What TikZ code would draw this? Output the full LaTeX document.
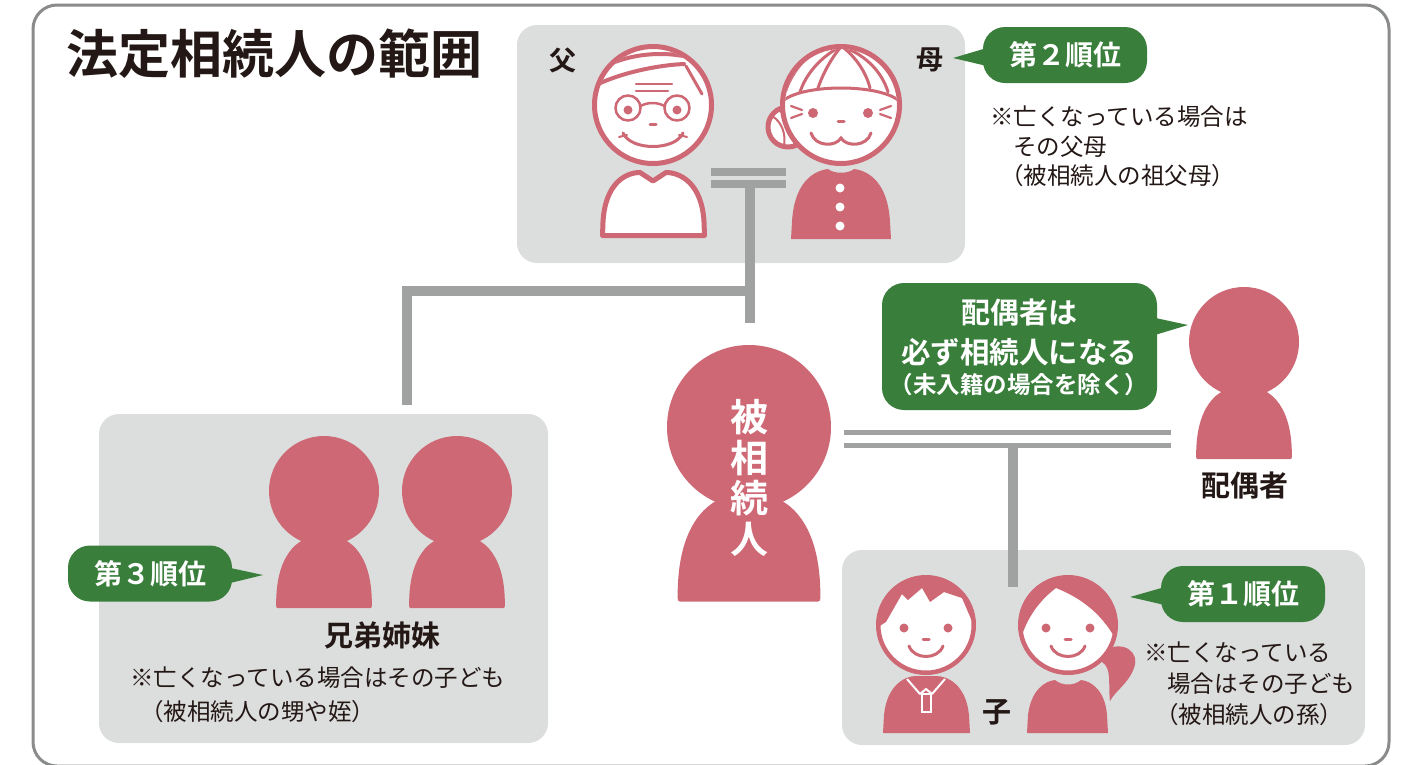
\documentclass[tikz,border=0pt]{standalone}
\usepackage{fontspec}
\setmainfont{Noto Sans CJK JP}[BoldFont={Noto Sans CJK JP Bold}]
\usetikzlibrary{positioning,calc}

\definecolor{figpink}{HTML}{CD6874}
\definecolor{boxgray}{HTML}{DCDDDD}
\definecolor{linegray}{HTML}{A0A1A1}
\definecolor{framegray}{HTML}{8A8B8B}
\definecolor{rankgreen}{HTML}{3A7E3C}
\definecolor{inkblack}{HTML}{231815}

\tikzset{
    groupbox/.style = {
        fill=boxgray,
        rounded corners=20pt
    },
    bondline/.style = {
        draw=linegray,
        line width=10pt
    },
    rankbubble/.style = {
        fill=rankgreen,
        rounded corners=22pt,
        text=white,
        font=\bfseries\fontsize{28}{28}\selectfont,
        inner sep=0pt,
        minimum width=164pt,
        minimum height=56pt
    },
    whotext/.style = {
        text=inkblack,
        font=\bfseries\fontsize{29}{29}\selectfont,
        inner sep=0pt
    },
    notetext/.style = {
        text=inkblack,
        font=\fontsize{23.5}{23.5}\selectfont,
        inner sep=0pt,
        anchor=west
    },
    outlined/.style = {
        draw=figpink,
        fill=white,
        line width=5pt,
        line join=round
    },
    facestroke/.style = {
        draw=figpink,
        line width=3pt,
        line cap=round
    },
    pics/silhouette/.style = {
        code = {
            \fill[figpink] (0,0) circle (1);
            \fill[figpink] (-0.87,2.05) .. controls (-0.87,1.25) and (-0.55,0.8) .. (0,0.8)
                .. controls (0.55,0.8) and (0.87,1.25) .. (0.87,2.05)
                .. controls (0.87,2.13) .. (0.8,2.13) -- (-0.8,2.13)
                .. controls (-0.87,2.13) .. (-0.87,2.05) -- cycle;
        }
    }
}

\begin{document}
\begin{tikzpicture}[x=1pt, y=-1pt]
    \useasboundingbox (0,0) rectangle (1424,764);

    % Frame and title
    \draw[framegray, line width=3pt, rounded corners=24pt] (33,5) rectangle (1389,766);
    \node[anchor=west, text=inkblack, inner sep=0pt, font=\bfseries\fontsize{52}{52}\selectfont] (title) at (66,54) {法定相続人の範囲};

    % Grey groups
    \fill[groupbox] (517,25) rectangle (965,263);
    \fill[groupbox] (99,414) rectangle (548,743);
    \fill[groupbox] (842,550) rectangle (1365,745);

    % Family lines
    \coordinate (par-l) at (711,0);
    \coordinate (par-r) at (786,0);
    \coordinate (par-stem) at (750,184);
    \coordinate (par-end) at (750,323);
    \coordinate (sib-top) at (407,291);
    \coordinate (sib-end) at (407,405);
    \coordinate (spo-l) at (844,0);
    \coordinate (spo-r) at (1171,0);
    \coordinate (kid-top) at (1013,446);
    \coordinate (kid-end) at (1013,587);

    \draw[linegray, line width=7.7pt] (par-l |- 0,172) -- (par-r |- 0,172);
    \draw[linegray, line width=7.7pt] (par-l |- 0,184) -- (par-r |- 0,184);
    \draw[bondline] (par-stem) -- (par-end);
    \draw[bondline] (sib-end) -- (sib-top) -- (par-stem |- sib-top);
    \draw[linegray, line width=5pt] (spo-l |- 0,432.5) -- (spo-r |- 0,432.5);
    \draw[linegray, line width=5pt] (spo-l |- 0,445.5) -- (spo-r |- 0,445.5);
    \draw[bondline] (kid-top) -- (kid-end);

    % Father
    \path[outlined] (602.5,235.5) -- (603,222) .. controls (605,184) and (625,172.5) .. (640,172.5)
        -- (653,181) -- (666,172.5) .. controls (681,172.5) and (702,184) .. (704,222) -- (704.5,235.5) -- cycle;
    \path[outlined] (653,105) circle (58.5);
    \begin{scope}
        \clip (653,105) circle (56);
        \draw[facestroke, line width=4pt] (598,70) .. controls (625,54) and (662,50) .. (692,58);
        \draw[facestroke, line width=4pt] (594,86) .. controls (622,72) and (660,65) .. (684,64);
        \draw[facestroke] (686,66) -- (702,94);
        \draw[facestroke] (696,60) -- (712,84);
    \end{scope}
    \draw[facestroke, line width=2.2pt] (636,84) -- (672,84) (636,91) -- (668,91);
    \draw[facestroke, line width=2.5pt] (628,108) circle (12.5) (677,108) circle (12.5);
    \draw[facestroke, line width=2.5pt] (640.5,106) .. controls (648,102) and (657,102) .. (664.5,106);
    \fill[figpink] (628,110) circle (4.5) (677,110) circle (4.5);
    \draw[facestroke] (650,124) -- (656,124);
    \draw[facestroke] (623,133) .. controls (631,151) and (675,151) .. (683,133);
    \draw[facestroke, line width=2pt] (619,137) -- (627,135) (679,135) -- (687,137);

    % Mother
    \path[outlined] (788,127) circle (20);
    \begin{scope}
        \clip (788,127) circle (18);
        \draw[facestroke, line width=2pt] (772,116) .. controls (782,122) and (786,134) .. (784,146);
        \draw[facestroke, line width=2pt] (778,110) .. controls (792,118) and (796,132) .. (794,146);
    \end{scope}
    \path[outlined] (841,105) circle (58.5);
    \begin{scope}
        \clip (841,105) circle (56);
        \draw[facestroke] (784,100) .. controls (805,84) and (877,84) .. (898,100);
        \draw[facestroke] (838,48) .. controls (820,58) and (806,74) .. (800,92);
        \draw[facestroke] (840,48) .. controls (830,60) and (822,76) .. (818,88);
        \draw[facestroke] (822,46) .. controls (806,56) and (792,72) .. (786,90);
        \draw[facestroke] (844,48) .. controls (856,58) and (866,72) .. (870,88);
        \draw[facestroke] (846,48) .. controls (866,56) and (882,72) .. (888,92);
        \draw[facestroke] (862,46) .. controls (880,54) and (894,70) .. (898,86);
    \end{scope}
    \fill[figpink] (813,113) circle (5) (868,113) circle (5);
    \draw[facestroke, line width=2.2pt] (791,106) -- (802,110) (791,118) -- (802,114);
    \draw[facestroke, line width=2.2pt] (891,106) -- (880,110) (891,118) -- (880,114);
    \draw[facestroke] (838,121) -- (844,121);
    \draw[facestroke] (811,133) .. controls (815,147) and (836,147) .. (841,138)
        .. controls (846,147) and (867,147) .. (871,133);
    \fill[figpink] (791,239) -- (792,222) .. controls (794,184) and (812,171) .. (828,169)
        .. controls (834,174) and (848,174) .. (854,169) .. controls (870,171) and (888,184) .. (890,222)
        -- (891,239) -- cycle;
    \fill[white] (840,188) circle (4.5) (840,207) circle (4.5) (840,226) circle (4.5);

    \node[whotext, font=\bfseries\fontsize{27}{27}\selectfont] (father) at (563,60) {父};
    \node[whotext, font=\bfseries\fontsize{27}{27}\selectfont] (mother) at (930,60) {母};

    % Deceased, spouse and siblings
    \pic[scale=82] (self) at (749,427) {silhouette};
    \node[text=white, align=center, inner sep=0pt, font=\bfseries\fontsize{38}{40.5}\selectfont] (selftext) at (749,478) {被\\相\\続\\人};
    \pic[scale=55] (spouse) at (1244,342) {silhouette};
    \node[whotext] (spousename) at (1245,485) {配偶者};
    \pic[scale=55] (sib1) at (324,491) {silhouette};
    \pic[scale=55] (sib2) at (457,491) {silhouette};
    \node[whotext] (sibname) at (382,635) {兄弟姉妹};

    % Boy
    \fill[figpink] (883,733) -- (884,715) .. controls (887,685) and (905,676) .. (916,676) -- (936,676)
        .. controls (948,676) and (966,685) .. (969,715) -- (970,733) -- cycle;
    \draw[white, line width=2pt, line join=round] (907,679) -- (920,694) -- (926,689) -- (932,694) -- (945,679);
    \draw[white, line width=2pt] (921.5,694) rectangle (930.5,712);
    \path[outlined, line width=4.5pt] (926,625) circle (47.75);
    \begin{scope}
        \clip (926,625) circle (46);
        \fill[figpink] (870,570) -- (985,570) -- (985,630) -- (974,626) -- (962,598) -- (944,592)
            -- (930,602) -- (922,588) -- (908,600) -- (902,594) -- (886,622) -- (870,632) -- cycle;
    \end{scope}
    \fill[figpink] (904,628) circle (4.5) (948,628) circle (4.5);
    \draw[facestroke] (923,639) -- (929,639);
    \draw[facestroke] (909,646) .. controls (914,660) and (938,660) .. (943,646);

    % Girl
    \fill[figpink] (1104,650) .. controls (1124,640) and (1140,652) .. (1134,668)
        .. controls (1128,684) and (1116,690) .. (1110,701) .. controls (1108,684) and (1112,668) .. (1102,662) -- cycle;
    \fill[figpink] (1027,733) -- (1028,715) .. controls (1031,690) and (1045,681) .. (1055,680)
        .. controls (1062,686) and (1074,686) .. (1081,680) .. controls (1091,681) and (1105,690) .. (1107,715)
        -- (1108,733) -- cycle;
    \path[outlined, line width=4.5pt] (1068,625) circle (47.75);
    \begin{scope}
        \clip (1068,625) circle (46);
        \fill[figpink] (1010,570) -- (1130,570) -- (1130,650) -- (1116,640)
            .. controls (1100,610) and (1076,596) .. (1056,588) .. controls (1040,600) and (1026,618) .. (1020,642)
            -- (1010,642) -- cycle;
    \end{scope}
    \fill[figpink] (1046,628) circle (4.5) (1090,628) circle (4.5);
    \draw[facestroke] (1065,639) -- (1071,639);
    \draw[facestroke] (1051,646) .. controls (1056,660) and (1080,660) .. (1085,646);
    \node[whotext] (kidname) at (997,712) {子};

    % Rank bubbles
    \node[rankbubble] (rank2) at (1065,55) {第２順位};
    \coordinate (rank2-tip) at (953,58);
    \fill[rankgreen] (rank2-tip) -- ($(rank2.west)+(4,-7)$) -- ($(rank2.west)+(4,11)$) -- cycle;

    \node[rankbubble] (rank3) at (150,573.5) {第３順位};
    \coordinate (rank3-tip) at (263,575);
    \fill[rankgreen] (rank3-tip) -- ($(rank3.east)+(-4,-6)$) -- ($(rank3.east)+(-4,10)$) -- cycle;

    \node[rankbubble] (rank1) at (1243,594) {第１順位};
    \coordinate (rank1-tip) at (1130,597);
    \fill[rankgreen] (rank1-tip) -- ($(rank1.west)+(4,-7)$) -- ($(rank1.west)+(4,11)$) -- cycle;

    \node[fill=rankgreen, rounded corners=22pt, minimum width=275pt, minimum height=127pt, inner sep=0pt] (spousebubble) at (1019.5,346.5) {};
    \coordinate (spouse-tip) at (1188,325);
    \fill[rankgreen] (spouse-tip) -- ($(spousebubble.east)+(-4,-29)$) -- ($(spousebubble.east)+(-4,-11)$) -- cycle;
    \node[text=white, inner sep=0pt, font=\bfseries\fontsize{29}{29}\selectfont] (spouseline1) at (1019,313) {配偶者は};
    \node[text=white, inner sep=0pt, font=\bfseries\fontsize{29.5}{29.5}\selectfont] (spouseline2) at (1019,352) {必ず相続人になる};
    \node[text=white, inner sep=0pt, font=\bfseries\fontsize{23.5}{23.5}\selectfont] (spouseline3) at (1019,385) {（未入籍の場合を除く）};

    % Notes
    \node[notetext] (parnote1) at (990,117) {※亡くなっている場合は};
    \node[notetext] (parnote2) at (1013,147) {その父母};
    \node[notetext] (parnote3) at (1000,176) {（被相続人の祖父母）};
    \node[notetext] (sibnote1) at (130,678) {※亡くなっている場合はその子ども};
    \node[notetext] (sibnote2) at (140,712) {（被相続人の甥や姪）};
    \node[notetext] (kidnote1) at (1144,652) {※亡くなっている};
    \node[notetext] (kidnote2) at (1167,684) {場合はその子ども};
    \node[notetext] (kidnote3) at (1155,715) {（被相続人の孫）};
\end{tikzpicture}
\end{document}
